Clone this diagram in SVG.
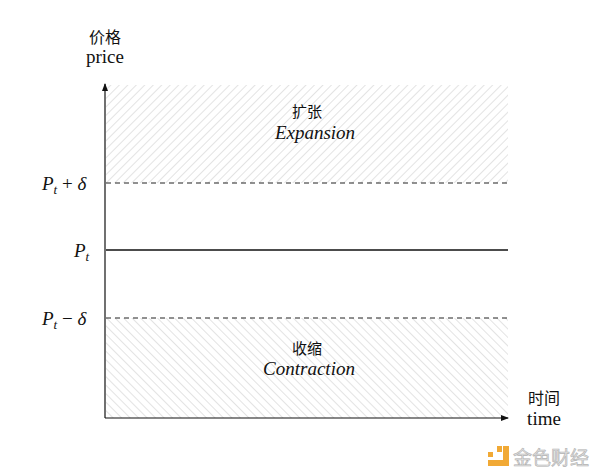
<svg xmlns="http://www.w3.org/2000/svg" width="600" height="475" viewBox="0 0 600 475">
<style>
.t{font-family:"Liberation Serif","DejaVu Serif",serif;fill:#111}
.c{font-family:"Noto Sans CJK SC",sans-serif;fill:#111}
.i{font-family:"Liberation Serif","DejaVu Serif",serif;font-style:italic;fill:#111}
.d{stroke:#222;stroke-width:1;stroke-dasharray:5,4;fill:none}
</style>
<defs>
<pattern id="h1" width="6" height="6" patternUnits="userSpaceOnUse" patternTransform="rotate(45)"><line x1="0" y1="0" x2="0" y2="6" stroke="#c8c8c8" stroke-width="1"/></pattern>
<pattern id="h2" width="6" height="6" patternUnits="userSpaceOnUse" patternTransform="rotate(-45)"><line x1="0" y1="0" x2="0" y2="6" stroke="#c8c8c8" stroke-width="1"/></pattern>
<marker id="a" markerWidth="8" markerHeight="6" refX="7" refY="3" orient="auto" markerUnits="userSpaceOnUse"><path d="M0,0 L8,3 L0,6 Z" fill="#111"/></marker>
</defs>
<rect width="600" height="475" fill="#fff"/>
<g id="expansion"><rect x="106" y="85" width="402" height="98" fill="url(#h1)"/>
<text class="c" x="307" y="117" font-size="15" text-anchor="middle">扩张</text>
<text class="i" x="315" y="139" font-size="19" text-anchor="middle">Expansion</text></g>
<g id="contraction"><rect x="106" y="318" width="402" height="100" fill="url(#h2)"/>
<text class="c" x="307" y="354" font-size="15" text-anchor="middle">收缩</text>
<text class="i" x="309" y="375" font-size="19" text-anchor="middle">Contraction</text></g>
<g id="connectors">
<line x1="105" y1="418" x2="105" y2="84" stroke="#111" stroke-width="1.2" marker-end="url(#a)"/>
<line x1="105" y1="418" x2="508" y2="418" stroke="#111" stroke-width="1.2" marker-end="url(#a)"/>
<line class="d" x1="106" y1="183" x2="508" y2="183"/>
<line x1="106" y1="250" x2="508" y2="250" stroke="#111" stroke-width="1.5"/>
<line class="d" x1="106" y1="318" x2="508" y2="318"/>
</g>
<g id="labels">
<text class="c" x="105" y="43" font-size="16" text-anchor="middle">价格</text>
<text class="t" x="105" y="63" font-size="19" text-anchor="middle">price</text>
<text class="i" x="42" y="190" font-size="19">P<tspan font-size="13" dy="4">t</tspan><tspan dy="-4" font-style="normal"> + </tspan>δ</text>
<text class="i" x="74" y="257" font-size="19">P<tspan font-size="13" dy="4">t</tspan></text>
<text class="i" x="42" y="325" font-size="19">P<tspan font-size="13" dy="4">t</tspan><tspan dy="-4" font-style="normal"> − </tspan>δ</text>
<text class="c" x="544" y="404" font-size="16" text-anchor="middle">时间</text>
<text class="t" x="544" y="425" font-size="19" text-anchor="middle">time</text>
</g>
<g id="watermark" opacity="0.9">
<rect x="488" y="452" width="5" height="5" fill="#f0a020"/>
<rect x="497" y="446" width="5" height="6" fill="#f0a020"/>
<path d="M503,446 h6 v20 h-21 v-6 h15 Z" fill="#f0a020"/>
<text x="551" y="465" font-size="19" text-anchor="middle" font-family="Noto Sans CJK SC,sans-serif" fill="#ddd" stroke="#aaa" stroke-width="0.6">金色财经</text>
</g>
</svg>
